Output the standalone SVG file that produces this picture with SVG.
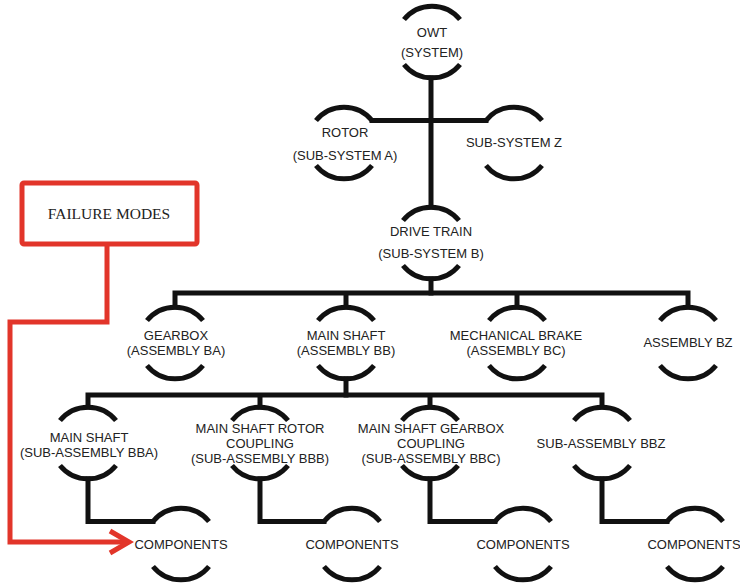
<svg xmlns="http://www.w3.org/2000/svg" width="740" height="583" viewBox="0 0 740 583">
<style>
.ring{fill:none;stroke:#111;stroke-width:5}
.conn path{fill:none;stroke:#111;stroke-width:5;stroke-linejoin:miter;stroke-linecap:square}
.t{font-family:"Liberation Sans",Arial,sans-serif;font-size:13px;fill:#222;text-anchor:middle}
.red{fill:none;stroke:#e2352a;stroke-width:5}
.fm{font-family:"Liberation Serif","Times New Roman",serif;font-size:15.5px;fill:#222;text-anchor:middle}
</style>
<defs>
<path id="ring" class="ring" d="M-28,-22.5 A36,36 0 0 1 28,-22.5 M-28,22.5 A36,36 0 0 0 28,22.5"/>
</defs>
<rect width="740" height="583" fill="#fff"/>
<g class="conn">
<path d="M431,78 V207"/>
<path d="M372,120.5 H486"/>
<path d="M431,279 V293"/>
<path d="M175,307 V293 H688 V307 M346,293 V307 M517,293 V307"/>
<path d="M346,379 V395"/>
<path d="M88,407 V395 H602 V407 M260,395 V407 M430,395 V407"/>
<path d="M88,479 V521.5 H153"/>
<path d="M260,479 V521.5 H324"/>
<path d="M430,479 V521.5 H495"/>
<path d="M602,479 V521.5 H667"/>
</g>
<g id="owt"><use href="#ring" x="432" y="42"/><text class="t" x="432" y="37">OWT</text><text class="t" x="432" y="57">(SYSTEM)</text></g>
<g id="rotor"><use href="#ring" x="344" y="143"/><text class="t" x="345" y="137">ROTOR</text><text class="t" x="345" y="160">(SUB-SYSTEM A)</text></g>
<g id="subz"><use href="#ring" x="514" y="143"/><text class="t" x="514" y="147">SUB-SYSTEM Z</text></g>
<g id="drivetrain"><use href="#ring" x="431" y="243"/><text class="t" x="431" y="236">DRIVE TRAIN</text><text class="t" x="431" y="258">(SUB-SYSTEM B)</text></g>
<g id="gearbox"><use href="#ring" x="175" y="343"/><text class="t" x="176" y="340">GEARBOX</text><text class="t" x="176" y="355">(ASSEMBLY BA)</text></g>
<g id="mainshaft"><use href="#ring" x="346" y="343"/><text class="t" x="346" y="340">MAIN SHAFT</text><text class="t" x="346" y="355">(ASSEMBLY BB)</text></g>
<g id="brake"><use href="#ring" x="517" y="343"/><text class="t" x="516" y="340">MECHANICAL BRAKE</text><text class="t" x="516" y="355">(ASSEMBLY BC)</text></g>
<g id="bz"><use href="#ring" x="688" y="343"/><text class="t" x="688" y="347">ASSEMBLY BZ</text></g>
<g id="bba"><use href="#ring" x="88" y="443"/><text class="t" x="89" y="442">MAIN SHAFT</text><text class="t" x="89" y="457">(SUB-ASSEMBLY BBA)</text></g>
<g id="bbb"><use href="#ring" x="260" y="443"/><text class="t" x="260" y="433">MAIN SHAFT ROTOR</text><text class="t" x="260" y="448">COUPLING</text><text class="t" x="260" y="463">(SUB-ASSEMBLY BBB)</text></g>
<g id="bbc"><use href="#ring" x="430" y="443"/><text class="t" x="431" y="433">MAIN SHAFT GEARBOX</text><text class="t" x="431" y="448">COUPLING</text><text class="t" x="431" y="463">(SUB-ASSEMBLY BBC)</text></g>
<g id="bbz"><use href="#ring" x="602" y="443"/><text class="t" x="601" y="448">SUB-ASSEMBLY BBZ</text></g>
<g id="comp1"><use href="#ring" x="181" y="544"/><text class="t" x="181" y="549">COMPONENTS</text></g>
<g id="comp2"><use href="#ring" x="352" y="544"/><text class="t" x="352" y="549">COMPONENTS</text></g>
<g id="comp3"><use href="#ring" x="523" y="544"/><text class="t" x="523" y="549">COMPONENTS</text></g>
<g id="comp4"><use href="#ring" x="695" y="544"/><text class="t" x="694" y="549">COMPONENTS</text></g>
<g id="failuremodes"><rect class="red" x="22" y="183" width="175" height="61" rx="2"/><text class="fm" x="109" y="219">FAILURE MODES</text></g>
<g id="redlink"><path class="red" d="M107,244 V322 H10 V542 H127"/><path class="red" d="M110,531 L129,542 L110,553" stroke-linejoin="miter"/></g>
</svg>
